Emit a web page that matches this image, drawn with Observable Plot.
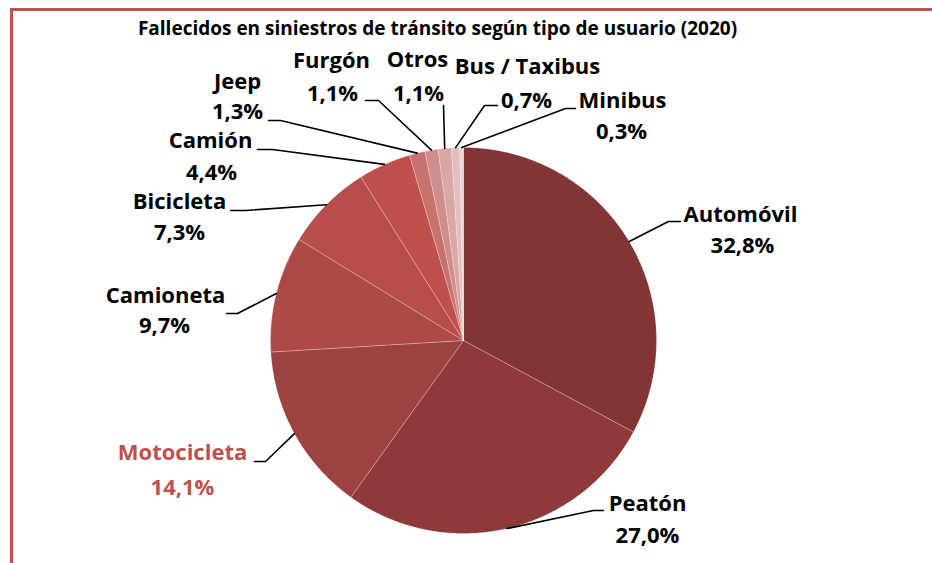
<!DOCTYPE html>
<html>
<head>
<meta charset="utf-8">
<script src="https://cdn.jsdelivr.net/npm/d3@7"></script>
<script src="https://cdn.jsdelivr.net/npm/@observablehq/plot@0.6"></script>
<style>
  html, body { margin: 0; padding: 0; background: #fff; }
  #wrap { position: relative; width: 932px; height: 563px; overflow: hidden; }
  #frame { position: absolute; left: 10px; top: 8px; right: -10px; bottom: -10px;
           border-top: 3.5px solid #C0504D; border-left: 3.5px solid #C0504D; }
  #chart { position: absolute; left: 0; top: 0; }
</style>
</head>
<body>
<div id="wrap"><div id="frame"></div><div id="chart"></div></div>
<script>
// ---- data ----
const title = "Fallecidos en siniestros de tránsito según tipo de usuario (2020)";
const names = ["Automóvil", "Peatón", "Motocicleta", "Camioneta", "Bicicleta", "Camión", "Jeep", "Furgón", "Otros", "Bus / Taxibus", "Minibus"];
const shares = [32.8, 27.0, 14.1, 9.7, 7.3, 4.4, 1.3, 1.1, 1.1, 0.7, 0.3];

// ---- styles ----
const colors = ["#833434", "#8E3A3A", "#9C4240", "#AD4A48", "#B74E4B", "#C0504D", "#C67370", "#CF8D8B", "#D8A7A6", "#E1BFBE", "#EBD6D5"];
const labelColors = ["#000", "#000", "#C0504D", "#000", "#000", "#000", "#000", "#000", "#000", "#000", "#000"];

// ---- layout (pixels) ----
const cx = 463, cy = 340, R = 193;
const nameXY = [[740, 214], [647, 503], [182, 452], [165, 295], [179, 201], [210, 140], [237, 81], [331, 60], [417, 59], [527, 66], [622, 100]];
const pctXY  = [[742, 245], [647, 535], [182, 487], [164, 325], [179, 232], [211, 172], [237, 111], [332, 93], [418, 93], [526, 100], [621, 131]];
const kneeXY = [[668, 221], [593, 510], [265, 461], [237, 313], [245, 210], [272, 149], [280, 120], [378, 100], [443, 105], [484, 105], [565, 108]];
const endXY  = [[680, 221], [603, 510], [254, 461], [226, 313], [230, 210], [257, 149], [268, 120], [365, 100], [443, 105], [497, 105], [575, 108]];

// ---- derived geometry ----
const arcs = d3.pie().sort(null).value(d => d)(shares);
const slicePts = [];
arcs.forEach((a, i) => {
  slicePts.push({x: cx, y: cy, k: names[i]});
  const n = Math.max(2, Math.ceil((a.endAngle - a.startAngle) / 0.005));
  for (let j = 0; j <= n; j++) {
    const t = a.startAngle + (a.endAngle - a.startAngle) * j / n;
    slicePts.push({x: cx + R * Math.sin(t), y: cy - R * Math.cos(t), k: names[i]});
  }
  slicePts.push({x: cx, y: cy, k: names[i]});
});
const leaderPts = [];
arcs.forEach((a, i) => {
  const m = (a.startAngle + a.endAngle) / 2;
  leaderPts.push({x: cx + R * Math.sin(m), y: cy - R * Math.cos(m), k: i});
  leaderPts.push({x: kneeXY[i][0], y: kneeXY[i][1], k: i});
  leaderPts.push({x: endXY[i][0], y: endXY[i][1], k: i});
});
const fmt = v => v.toFixed(1).replace(".", ",") + "%";
const labels = names.map((n, i) => ({name: n, pct: fmt(shares[i]), i}));

const font = "'Open Sans', Lato, sans-serif";
const plot = Plot.plot({
  width: 932, height: 563,
  marginTop: 0, marginRight: 0, marginBottom: 0, marginLeft: 0,
  x: {domain: [0, 932], range: [0, 932], axis: null},
  y: {domain: [0, 563], range: [0, 563], axis: null},
  color: {domain: names, range: colors},
  style: {background: "transparent", fontFamily: font},
  marks: [
    Plot.line(slicePts, {x: "x", y: "y", z: "k", fill: "k", stroke: "#ffffff", strokeOpacity: 0.3, strokeWidth: 0.8, curve: "linear"}),
    Plot.line(leaderPts, {x: "x", y: "y", z: "k", stroke: "#000", strokeWidth: 1.6, curve: "linear"}),
    Plot.text(labels, {x: d => nameXY[d.i][0], y: d => nameXY[d.i][1], text: "name", fill: d => labelColors[d.i], fontSize: 22, fontWeight: "bold", textAnchor: "middle", lineAnchor: "middle"}),
    Plot.text(labels, {x: d => pctXY[d.i][0], y: d => pctXY[d.i][1], text: "pct", fill: d => labelColors[d.i], fontSize: 22, fontWeight: "bold", textAnchor: "middle", lineAnchor: "middle"}),
    Plot.text([title], {x: () => 437, y: () => 28, text: d => d, fontSize: 19, fontWeight: "bold", fill: "#000", textAnchor: "middle", lineAnchor: "middle"})
  ]
});
document.getElementById("chart").appendChild(plot);
</script>
</body>
</html>
